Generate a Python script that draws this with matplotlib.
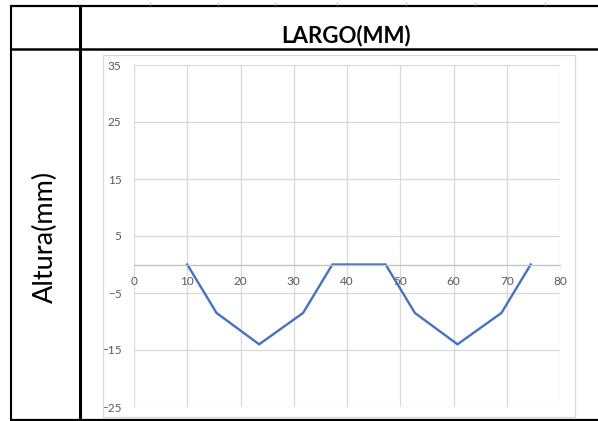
import matplotlib
matplotlib.use("Agg")
import matplotlib.pyplot as plt
from matplotlib.lines import Line2D
from matplotlib.patches import Rectangle

# Profile of the piece: width position (mm) vs height (mm)
largo = [10, 15.5, 23.5, 31.75, 37.25, 47.25, 52.75, 60.75, 69, 74.5]
altura = [0, -8.5, -14, -8.5, 0, 0, -8.5, -14, -8.5, 0]

x_ticks = [0, 10, 20, 30, 40, 50, 60, 70, 80]
y_ticks = [-25, -15, -5, 5, 15, 25, 35]

header_text = "LARGO(MM)"
side_text = "Altura(mm)"

W, H = 598, 421
fig = plt.figure(figsize=(W / 100, H / 100), dpi=100)
fig.patch.set_facecolor("white")


def fx(px):
    return px / W


def fy(py):
    return 1 - py / H


def hline(y, x0, x1, lw, color="black"):
    fig.add_artist(Line2D([fx(x0), fx(x1)], [fy(y), fy(y)], lw=lw, color=color,
                          transform=fig.transFigure, solid_capstyle="butt"))


def vline(x, y0, y1, lw, color="black"):
    fig.add_artist(Line2D([fx(x), fx(x)], [fy(y0), fy(y1)], lw=lw, color=color,
                          transform=fig.transFigure, solid_capstyle="butt"))


# Table frame
hline(5.5, 10, W, 1.6)
hline(48.5, 10, W, 1.8)
hline(420, 10, W, 1.6)
vline(11, 5, 421, 1.5)
vline(79.5, 5, 421, 2.2)
for tx in [150, 218, 275, 337, 406, 475, 545]:
    vline(tx, 2, 4.5, 0.8, color="#c8c8c8")

# Chart area border
fig.add_artist(Rectangle((fx(103), fy(417)), fx(575) - fx(103), fy(55) - fy(417),
                         transform=fig.transFigure, fill=False, ec="#d9d9d9", lw=0.9))

# Header and side titles
fig.text(fx(346), fy(36), header_text, ha="center", va="center",
         fontsize=16, fontweight="bold", family="Lato")
fig.text(fx(45), fy(237), side_text, ha="center", va="center", rotation=90,
         fontsize=19.5, family="Lato")

# Plot area
ax = fig.add_axes([fx(134), fy(407), fx(560) - fx(134), fy(65) - fy(407)])
ax.plot(largo, altura, color="#4472C4", lw=1.7, solid_joinstyle="miter")
ax.set_xlim(0, 80)
ax.set_ylim(-25, 35)
ax.set_xticks(x_ticks)
ax.set_yticks(y_ticks)

grid_c = "#d9d9d9"
for t in x_ticks:
    ax.axvline(t, color=grid_c, lw=0.9, zorder=0)
for t in y_ticks:
    ax.axhline(t, color=grid_c, lw=0.9, zorder=0)

for s in ["top", "right", "left"]:
    ax.spines[s].set_visible(False)
ax.spines["bottom"].set_position(("data", 0))
ax.spines["bottom"].set_color("#bfbfbf")
ax.spines["bottom"].set_linewidth(0.9)

ax.tick_params(axis="both", length=0, labelsize=8.5, labelcolor="#595959")
ax.tick_params(axis="x", pad=8)
ax.tick_params(axis="y", pad=9)
for lab in ax.get_xticklabels() + ax.get_yticklabels():
    lab.set_family("Lato")

fig.savefig("out.png", dpi=100, facecolor="white")
